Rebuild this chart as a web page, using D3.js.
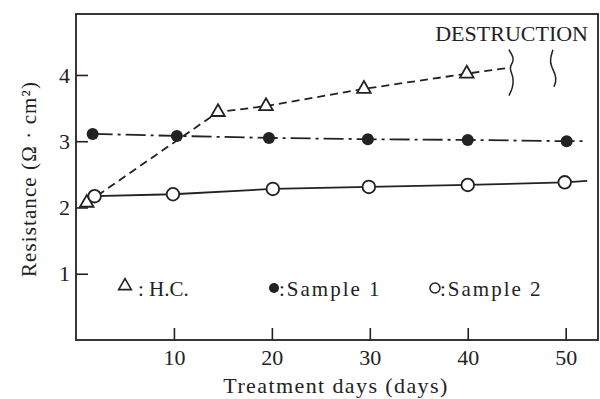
<!DOCTYPE html>
<html lang="en">
<head>
<meta charset="utf-8"/>
<title>Resistance vs treatment days</title>
<script src="https://cdn.jsdelivr.net/npm/d3@7"></script>
<style>
  body { margin: 0; background: #fff; }
  svg text { font-family: "Liberation Serif", "DejaVu Serif", serif; fill: #222; }
</style>
</head>
<body>
<svg id="chart" width="600" height="399"></svg>
<script>
// values
const hcDays = [1.1, 14.5, 19.4, 29.4, 39.9];
const hcValues = [2.07, 3.44, 3.53, 3.79, 4.02];
const hcBreak = [44.3, 4.11];           // dashed line runs on to the destruction mark

const s1Days = [1.7, 10.3, 19.7, 29.8, 40, 50.1];
const s1Values = [3.11, 3.08, 3.05, 3.03, 3.02, 3.0];
const s1End = [52.2, 3.0];

const s2Days = [1.9, 9.9, 20.1, 29.9, 40, 49.9];
const s2Values = [2.17, 2.2, 2.28, 2.31, 2.34, 2.38];
const s2End = [52.2, 2.4];

const xTicks = [10, 20, 30, 40, 50];
const yTicks = [1, 2, 3, 4];

const svg = d3.select('#chart');

const x = d3.scaleLinear().domain([0, 53.3]).range([76, 598]);
const y = d3.scaleLinear().domain([0, 4.92]).range([340, 14]);

// frame
svg.append('rect')
  .attr('x', x(0)).attr('y', y(4.92))
  .attr('width', x(53.3) - x(0)).attr('height', y(0) - y(4.92))
  .attr('fill', 'none').attr('stroke', '#222').attr('stroke-width', 1.8);

const xAxis = svg.append('g')
  .attr('transform', 'translate(0,' + y(0) + ')')
  .call(d3.axisBottom(x).tickValues(xTicks).tickSize(-12).tickPadding(9).tickFormat(d3.format('d')));
const yAxis = svg.append('g')
  .attr('transform', 'translate(' + x(0) + ',0)')
  .call(d3.axisLeft(y).tickValues(yTicks).tickSize(-12).tickPadding(6).tickFormat(d3.format('d')));

[xAxis, yAxis].forEach(g => {
  g.select('.domain').remove();
  g.selectAll('line').attr('stroke', '#222').attr('stroke-width', 1.6);
  g.selectAll('text').style('font-size', '22px').style('font-family', '"Liberation Serif", serif').attr('fill', '#222');
});

const line = d3.line().x(d => x(d[0])).y(d => y(d[1]));

const hcPts = hcDays.map((d, i) => [d, hcValues[i]]).concat([hcBreak]);
const s1Pts = s1Days.map((d, i) => [d, s1Values[i]]).concat([s1End]);
const s2Pts = s2Days.map((d, i) => [d, s2Values[i]]).concat([s2End]);

svg.append('path').attr('d', line(s2Pts))
  .attr('fill', 'none').attr('stroke', '#222').attr('stroke-width', 1.8);
svg.append('path').attr('d', line(s1Pts))
  .attr('fill', 'none').attr('stroke', '#222').attr('stroke-width', 1.8)
  .attr('stroke-dasharray', '20,5,3,5');
svg.append('path').attr('d', line(hcPts))
  .attr('fill', 'none').attr('stroke', '#222').attr('stroke-width', 1.8)
  .attr('stroke-dasharray', '8,5');

// markers
svg.append('g').selectAll('path')
  .data(hcDays.map((d, i) => [d, hcValues[i]]))
  .enter().append('path')
  .attr('d', d3.symbol(d3.symbolTriangle, 80))
  .attr('transform', d => 'translate(' + x(d[0]) + ',' + y(d[1]) + ')')
  .attr('fill', '#fff').attr('stroke', '#222').attr('stroke-width', 1.8);

svg.append('g').selectAll('circle')
  .data(s1Days.map((d, i) => [d, s1Values[i]]))
  .enter().append('circle')
  .attr('cx', d => x(d[0])).attr('cy', d => y(d[1])).attr('r', 6)
  .attr('fill', '#222');

svg.append('g').selectAll('circle')
  .data(s2Days.map((d, i) => [d, s2Values[i]]))
  .enter().append('circle')
  .attr('cx', d => x(d[0])).attr('cy', d => y(d[1])).attr('r', 6.3)
  .attr('fill', '#fff').attr('stroke', '#222').attr('stroke-width', 1.8);

// destruction marks
const wave = d3.line().curve(d3.curveBasis);
const b1 = x(hcBreak[0]), b2 = x(48.7), yb = y(hcBreak[1]);
svg.append('path')
  .attr('d', wave([[b1 - 1, yb - 18], [b1 + 4, yb - 10], [b1 + 3, yb - 5], [b1 - 1, yb], [b1 + 4, yb + 10], [b1 + 3, yb + 20], [b1 - 1, yb + 28]]))
  .attr('fill', 'none').attr('stroke', '#222').attr('stroke-width', 1.5);
svg.append('path')
  .attr('d', wave([[b2, yb - 18], [b2 - 3, yb - 8], [b2 - 2, yb - 2], [b2 + 3, yb + 8], [b2 + 3, yb + 14], [b2 + 1, yb + 19]]))
  .attr('fill', 'none').attr('stroke', '#222').attr('stroke-width', 1.5);

svg.append('text').attr('x', 588).attr('y', 41)
  .attr('text-anchor', 'end').style('font-size', '22px')
  .text('DESTRUCTION');

// legend
const ly = 288;
svg.append('path')
  .attr('d', d3.symbol(d3.symbolTriangle, 70))
  .attr('transform', 'translate(125,' + (ly - 2) + ')')
  .attr('fill', '#fff').attr('stroke', '#222').attr('stroke-width', 1.6);
svg.append('text').attr('x', 138).attr('y', 296).style('font-size', '21px')
  .text(': H.C.');
svg.append('circle').attr('cx', 274).attr('cy', ly).attr('r', 5).attr('fill', '#222');
svg.append('text').attr('x', 279).attr('y', 296).style('font-size', '21px')
  .style('letter-spacing', '2px').text(':Sample 1');
svg.append('circle').attr('cx', 435).attr('cy', ly).attr('r', 5)
  .attr('fill', '#fff').attr('stroke', '#222').attr('stroke-width', 1.5);
svg.append('text').attr('x', 440).attr('y', 296).style('font-size', '21px')
  .style('letter-spacing', '2px').text(':Sample 2');

// axis titles
svg.append('text').attr('x', 336).attr('y', 393)
  .attr('text-anchor', 'middle').style('font-size', '22px').style('letter-spacing', '1.4px')
  .text('Treatment days  (days)');
svg.append('text')
  .attr('transform', 'translate(36,179) rotate(-90)')
  .attr('text-anchor', 'middle').style('font-size', '21px').style('letter-spacing', '1.1px')
  .text('Resistance  (Ω · cm²)');
</script>
</body>
</html>
